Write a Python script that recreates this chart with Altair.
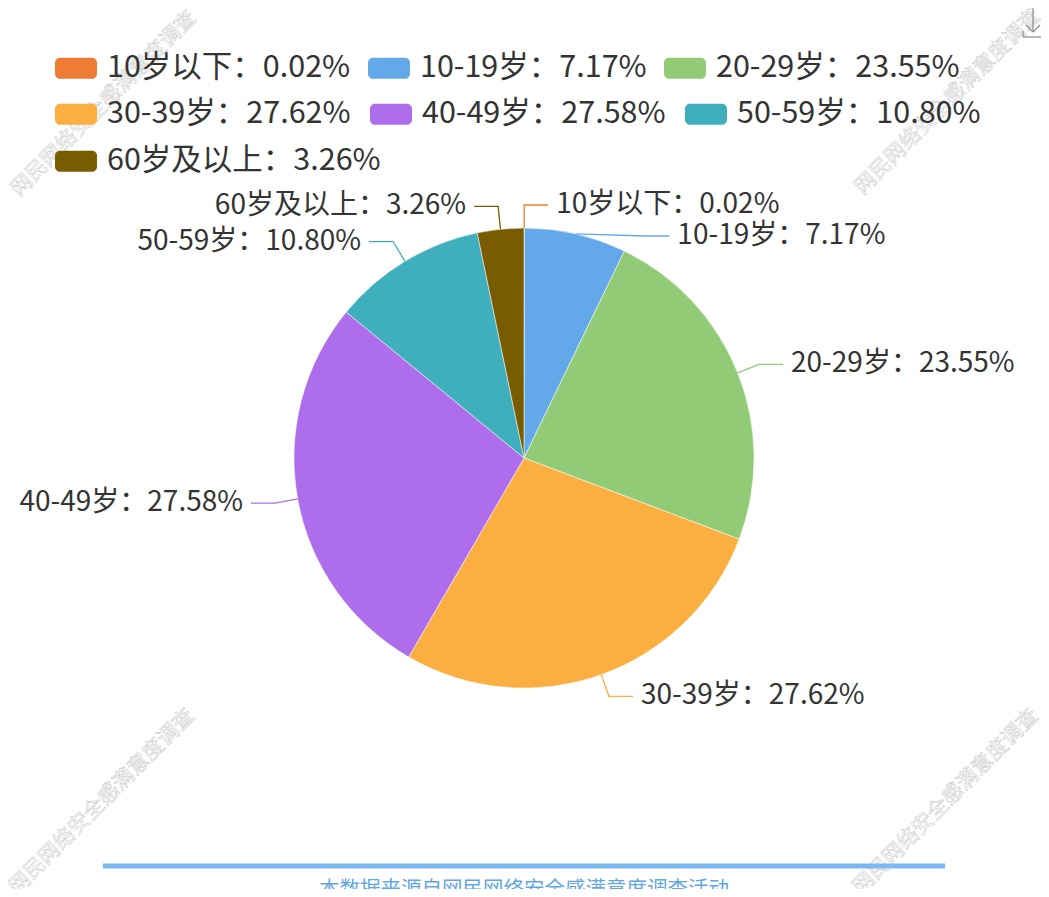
import math
import altair as alt
import pandas as pd

# ---- data ----
names = ["10岁以下", "10-19岁", "20-29岁", "30-39岁", "40-49岁", "50-59岁", "60岁及以上"]
values = [0.02, 7.17, 23.55, 27.62, 27.58, 10.80, 3.26]
colors = ["#EE7D33", "#63A9EA", "#92CB76", "#FCAF41", "#AE6EEB", "#3FAFBE", "#7A5C00"]
watermark = "网民网络安全感满意度调查"
footer = "本数据来源自网民网络安全感满意度调查活动"

# ---- layout constants (page pixel coords) ----
M = 8
W, H = 1049 - 2 * M, 897 - 2 * M
CX, CY, R = 524, 458, 230
R1 = 253      # elbow radius
LEN2 = 24     # horizontal leader length
GAP = 8       # gap between leader end and text
LINE_H = 31   # min vertical spacing of labels
LABEL_FS = 28
LEGEND_FS = 30.5
FONT = "Noto Sans CJK SC"

labels = [f"{n}：{v:.2f}%" for n, v in zip(names, values)]
total = sum(values)

df = pd.DataFrame({"name": names, "value": values, "label": labels, "idx": list(range(len(names)))})

# label layout (ECharts-like)
cum = 0.0
items = []
for i, v in enumerate(values):
    mid = (cum + v / 2) / total * 2 * math.pi
    cum += v
    s, c = math.sin(mid), math.cos(mid)
    items.append({
        "i": i, "side": 1 if s >= 0 else -1,
        "ex": CX + R * s, "ey": CY - R * c,
        "ly": CY - R1 * c,
    })
for side in (1, -1):
    grp = sorted([it for it in items if it["side"] == side], key=lambda d: d["ly"])
    for a, b in zip(grp, grp[1:]):
        if b["ly"] - a["ly"] < LINE_H:
            b["ly"] = a["ly"] + LINE_H
for it in items:
    dy = it["ly"] - CY
    dx = math.sqrt(max(R1 ** 2 - dy ** 2, 0))
    it["lx"] = CX + it["side"] * dx
    it["tx"] = it["lx"] + it["side"] * LEN2

line_rows, text_rows = [], []
for it in items:
    i = it["i"]
    pts = [(it["ex"], it["ey"]), (it["lx"], it["ly"]), (it["tx"], it["ly"])]
    for k, (px, py) in enumerate(pts):
        line_rows.append({"label": labels[i], "k": k, "px": px, "py": py})
    text_rows.append({"label": labels[i], "px": it["tx"] + it["side"] * GAP, "py": it["ly"],
                      "align": "left" if it["side"] > 0 else "right"})
lines_df = pd.DataFrame(line_rows)
texts_df = pd.DataFrame(text_rows)

xs = alt.Scale(domain=[M, M + W], range=[0, W])
ys = alt.Scale(domain=[M, M + H], range=[0, H])

rrect = ("M-0.76,-0.5 L0.76,-0.5 A0.24,0.24 0 0 1 1,-0.26 L1,0.26 "
         "A0.24,0.24 0 0 1 0.76,0.5 L-0.76,0.5 A0.24,0.24 0 0 1 -1,0.26 "
         "L-1,-0.26 A0.24,0.24 0 0 1 -0.76,-0.5 Z")

pie = alt.Chart(df).mark_arc(radius=R, stroke="#ffffff", strokeWidth=0.5).encode(
    theta=alt.Theta("value:Q", stack=True),
    order=alt.Order("idx:Q", sort="ascending"),
    color=alt.Color("label:N", scale=alt.Scale(domain=labels, range=colors), legend=None),
    x=alt.value(CX - M), y=alt.value(CY - M),
)

# legend rows (flow layout like the original): one legend per row
rows = [(0, 3, 67, 17), (3, 6, 113, 19), (6, 7, 160, 17)]
legend_layers = []
for a, b, yc, pad in rows:
    sub = df.iloc[a:b]
    legend_layers.append(
        alt.Chart(sub).mark_point(filled=True, opacity=0).encode(
            x=alt.value(0), y=alt.value(0),
            color=alt.Color(
                "label:N",
                scale=alt.Scale(domain=labels[a:b], range=colors[a:b]),
                sort=labels[a:b],
                legend=alt.Legend(
                    title=None, orient="none", legendX=55 - M, legendY=yc - 20 - M,
                    direction="horizontal", columns=3,
                    symbolType=rrect, symbolSize=42 * 42, symbolStrokeWidth=0, symbolOpacity=1,
                    labelFontSize=LEGEND_FS, labelFont=FONT, labelColor="#333333",
                    labelOffset=10, columnPadding=pad, labelLimit=400,
                ),
            ),
        )
    )

leaders = alt.Chart(lines_df).mark_line(strokeWidth=1.3).encode(
    x=alt.X("px:Q", scale=xs, axis=None),
    y=alt.Y("py:Q", scale=ys, axis=None),
    detail="label:N",
    order="k:Q",
    color=alt.Color("label:N", scale=alt.Scale(domain=labels, range=colors), legend=None),
)

def label_layer(align):
    return alt.Chart(texts_df[texts_df["align"] == align]).mark_text(
        align=align, baseline="middle", fontSize=LABEL_FS, font=FONT, color="#333333"
    ).encode(
        x=alt.X("px:Q", scale=xs, axis=None),
        y=alt.Y("py:Q", scale=ys, axis=None),
        text="label:N",
    )

wm_df = pd.DataFrame({"t": [watermark] * 4, "px": [104, 948, 102, 946], "py": [104, 102, 802, 802]})
wm = alt.Chart(wm_df).mark_text(
    angle=315, fontSize=21, font=FONT, fill="#ffffff", stroke="#c4c4c4", strokeWidth=0.5,
    align="center", baseline="middle",
).encode(
    x=alt.X("px:Q", scale=xs, axis=None),
    y=alt.Y("py:Q", scale=ys, axis=None),
    text="t:N",
)

bar = alt.Chart(pd.DataFrame({"a": [0]})).mark_rule(color="#7BB9F1", strokeWidth=5).encode(
    x=alt.value(103 - M), x2=alt.value(945 - M), y=alt.value(866 - M)
)
foot = alt.Chart(pd.DataFrame({"t": [footer]})).mark_text(
    fontSize=20.5, font=FONT, color="#62A6E6", align="center", baseline="middle"
).encode(x=alt.value(524 - M), y=alt.value(890 - M), text="t:N")

# download icon
icon_df = pd.DataFrame({
    "x1": [1033, 1026, 1040, 1023, 1023, 1043],
    "y1": [8, 25, 25, 31, 37, 31],
    "x2": [1033, 1033, 1033, 1023, 1043, 1043],
    "y2": [32, 32, 32, 37, 37, 37],
})
icon = alt.Chart(icon_df).mark_rule(color="#8a8a8a", strokeWidth=1.2).encode(
    x=alt.X("x1:Q", scale=xs, axis=None), y=alt.Y("y1:Q", scale=ys, axis=None),
    x2="x2:Q", y2="y2:Q",
)

chart = alt.layer(
    wm, pie, *legend_layers, leaders, label_layer("left"), label_layer("right"), bar, foot, icon
).resolve_scale(color="independent").properties(
    width=W, height=H, autosize=alt.AutoSizeParams(type="none"), padding=0,
    background="#ffffff",
).configure_view(stroke=None)

chart.save("out.html", embed_options={"renderer": "svg", "actions": False})
